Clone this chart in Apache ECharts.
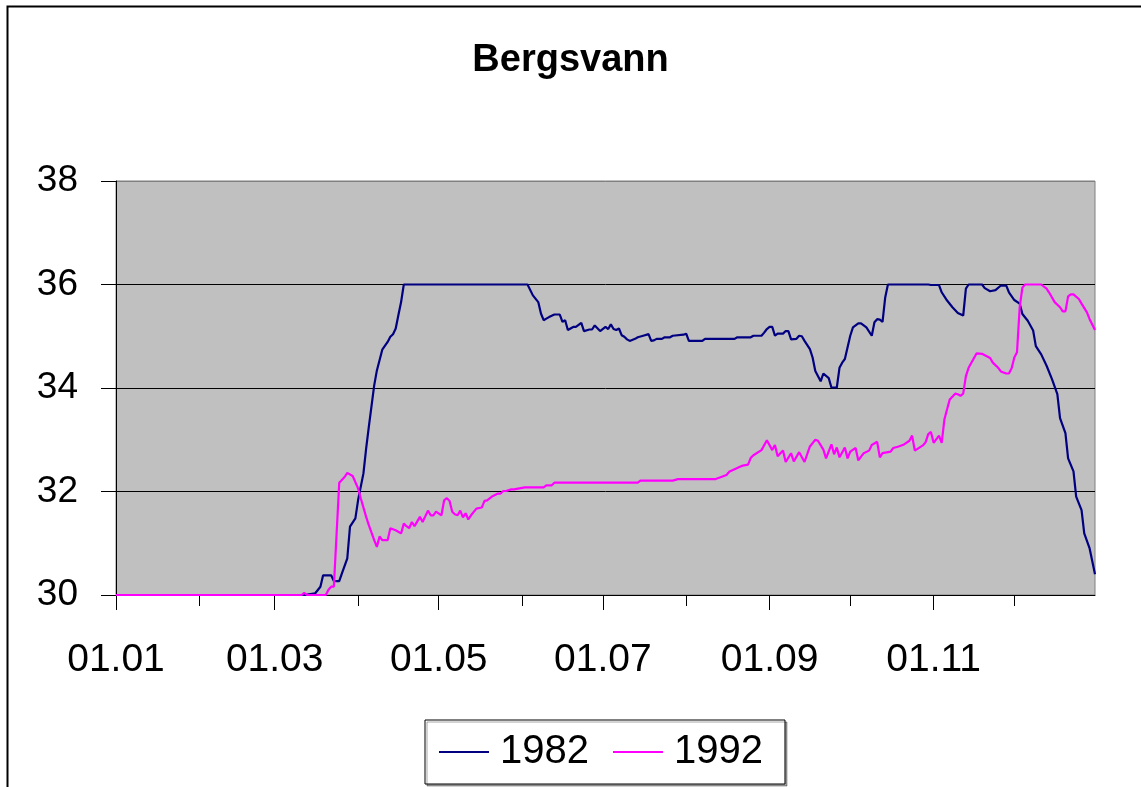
<!DOCTYPE html>
<html>
<head>
<meta charset="utf-8">
<title>Bergsvann</title>
<script src="https://cdn.jsdelivr.net/npm/echarts@6/dist/echarts.min.js"></script>
<style>
    * { margin: 0; padding: 0; }
    body { background: #fff; }
</style>
</head>
<body>
<div id="main" style="width: 1141px; height: 787px;"></div>
<script type="text/javascript">
var FONT = '"Liberation Sans", Arial, sans-serif';

var chartTitle = 'Bergsvann';
var seriesNames = ['1982', '1992'];
var seriesColors = ['#000080', '#ff00ff'];
var yMin = 30, yMax = 38, yStep = 2;
var labelMonths = ['01', '03', '05', '07', '09', '11'];

// [day of year (0 = 01.01), value]
var data1982 = [
    [0, 30], [70, 30], [74, 30.03], [76, 30.16], [77, 30.38], [80, 30.38], [81, 30.27], [83, 30.27],
    [84, 30.42], [86, 30.71], [87, 31.32], [89, 31.48], [90, 31.83], [92, 32.35], [93, 32.83],
    [94, 33.25], [96, 34.05], [97, 34.34], [99, 34.74], [101, 34.89], [102, 34.99], [103, 35.04],
    [104, 35.15], [105, 35.41], [106, 35.66], [107, 36], [153, 36], [155, 35.79], [157, 35.66],
    [158, 35.44], [159, 35.31], [160, 35.34], [161, 35.37], [163, 35.42], [165, 35.42], [166, 35.28],
    [167, 35.31], [168, 35.12], [170, 35.18], [171, 35.18], [173, 35.26], [174, 35.1], [176, 35.13],
    [177, 35.13], [178, 35.21], [180, 35.1], [182, 35.18], [183, 35.14], [184, 35.23], [185, 35.14],
    [186, 35.12], [187, 35.15], [188, 35.02], [189, 34.99], [190, 34.94], [191, 34.91], [193, 34.95],
    [194, 34.98], [196, 35.01], [198, 35.04], [199, 34.91], [200, 34.92], [201, 34.95], [203, 34.95],
    [204, 34.98], [206, 34.98], [207, 35.01], [211, 35.03], [212, 35.05], [213, 34.91], [218, 34.91],
    [219, 34.95], [230, 34.95], [231, 34.98], [236, 34.98], [237, 35.01], [240, 35.01], [241, 35.07],
    [242, 35.14], [243, 35.18], [244, 35.18], [245, 35.01], [246, 35.05], [248, 35.05], [249, 35.1],
    [250, 35.1], [251, 34.94], [253, 34.95], [254, 35.01], [255, 35.0], [256, 34.91], [258, 34.75],
    [259, 34.59], [260, 34.33], [262, 34.13], [263, 34.28], [265, 34.19], [266, 34.01], [268, 34.01],
    [269, 34.39], [270, 34.49], [271, 34.56], [273, 35.01], [274, 35.17], [276, 35.25], [277, 35.25],
    [279, 35.17], [281, 35.01], [282, 35.27], [283, 35.33], [284, 35.32], [285, 35.28], [286, 35.75],
    [287, 36], [302, 36], [303, 35.99], [306, 35.99], [307, 35.85], [309, 35.69], [311, 35.56],
    [313, 35.45], [315, 35.4], [316, 35.92], [317, 36], [322, 36], [323, 35.93], [325, 35.87],
    [327, 35.89], [329, 35.98], [331, 35.98], [332, 35.85], [334, 35.7], [336, 35.63], [337, 35.43],
    [339, 35.3], [341, 35.11], [342, 34.81], [344, 34.65], [346, 34.43], [348, 34.17], [350, 33.88],
    [351, 33.42], [353, 33.13], [354, 32.64], [356, 32.39], [357, 31.9], [359, 31.64], [360, 31.19],
    [362, 30.9], [364, 30.4]
];

var data1992 = [
    [0, 30], [69, 30], [70, 30.04], [71, 30], [78, 30], [79, 30.1], [80, 30.16], [81, 30.16],
    [83, 32.17], [85, 32.28], [86, 32.36], [88, 32.3], [90, 32.06], [91, 31.87], [93, 31.51],
    [94, 31.35], [96, 31.06], [97, 30.93], [98, 31.13], [99, 31.06], [101, 31.06], [102, 31.29],
    [104, 31.25], [106, 31.19], [107, 31.38], [108, 31.33], [109, 31.29], [110, 31.41], [111, 31.33],
    [113, 31.51], [114, 31.41], [116, 31.63], [117, 31.54], [118, 31.54], [119, 31.61], [121, 31.54],
    [122, 31.83], [123, 31.87], [124, 31.82], [125, 31.61], [126, 31.56], [127, 31.54], [128, 31.63],
    [129, 31.5], [130, 31.58], [131, 31.46], [132, 31.54], [134, 31.67], [136, 31.69], [137, 31.82],
    [138, 31.83], [140, 31.91], [142, 31.96], [143, 31.96], [144, 32.01], [145, 32.01], [147, 32.04],
    [148, 32.04], [152, 32.08], [159, 32.08], [160, 32.12], [162, 32.12], [163, 32.17], [194, 32.17],
    [195, 32.21], [207, 32.21], [209, 32.24], [223, 32.24], [225, 32.28], [227, 32.32], [228, 32.38],
    [230, 32.43], [232, 32.48], [233, 32.5], [235, 32.52], [236, 32.65], [237, 32.7], [240, 32.8],
    [242, 32.99], [244, 32.8], [245, 32.9], [246, 32.68], [248, 32.79], [249, 32.57], [251, 32.74],
    [252, 32.58], [254, 32.76], [256, 32.57], [258, 32.87], [260, 33.0], [261, 32.98], [263, 32.81],
    [264, 32.64], [266, 32.91], [267, 32.72], [268, 32.85], [269, 32.66], [271, 32.85], [272, 32.64],
    [273, 32.77], [275, 32.84], [276, 32.6], [278, 32.74], [280, 32.79], [281, 32.9], [283, 32.96],
    [284, 32.66], [285, 32.74], [288, 32.77], [289, 32.84], [291, 32.87], [293, 32.91], [295, 32.98],
    [296, 33.08], [297, 32.79], [300, 32.89], [301, 32.95], [302, 33.11], [303, 33.15], [304, 32.94],
    [306, 33.08], [307, 32.94], [308, 33.39], [309, 33.59], [310, 33.78], [312, 33.89], [313, 33.88],
    [314, 33.85], [315, 33.89], [316, 34.23], [317, 34.39], [320, 34.67], [322, 34.66], [325, 34.58],
    [326, 34.49], [328, 34.39], [329, 34.32], [331, 34.28], [332, 34.28], [333, 34.38], [334, 34.59],
    [335, 34.69], [336, 35.56], [337, 35.94], [338, 36], [344, 36], [346, 35.92], [347, 35.84],
    [349, 35.66], [351, 35.56], [352, 35.48], [353, 35.48], [354, 35.77], [355, 35.81], [356, 35.81],
    [358, 35.72], [359, 35.63], [361, 35.46], [362, 35.33], [364, 35.12]
];

function pad(n) {
    return n < 10 ? '0' + n : '' + n;
}

// one category per day of the year, labelled dd.mm
var days = [];
var d = new Date(1982, 0, 1);
while (d.getFullYear() === 1982) {
    days.push(pad(d.getDate()) + '.' + pad(d.getMonth() + 1));
    d.setDate(d.getDate() + 1);
}

function isMonthStart(v) {
    return v.slice(0, 3) === '01.';
}
function isLabelMonth(v) {
    return isMonthStart(v) && labelMonths.indexOf(v.slice(3)) >= 0;
}

var gridBox = { left: 116, right: 46, top: 181, bottom: 192 };

var myChart = echarts.init(document.getElementById('main'));

var option = {
    animation: false,
    backgroundColor: '#fff',
    textStyle: { fontFamily: FONT },
    title: {
        text: chartTitle,
        left: 'center',
        top: 37,
        textStyle: { fontFamily: FONT, fontSize: 38, fontWeight: 'bold', color: '#000' }
    },
    legend: {
        data: seriesNames,
        left: 425,
        top: 720,
        padding: [12, 22, 12, 14],
        itemGap: 24,
        itemWidth: 50,
        itemHeight: 2,
        icon: 'rect',
        borderColor: '#000',
        borderWidth: 1,
        borderRadius: 0,
        backgroundColor: '#fff',
        shadowColor: 'rgba(0,0,0,0.35)',
        shadowOffsetX: 2,
        shadowOffsetY: 2,
        textStyle: { fontFamily: FONT, fontSize: 40, color: '#000', lineHeight: 40, padding: [0, 0, 0, 6] }
    },
    grid: [
        Object.assign({ show: true, backgroundColor: '#c0c0c0', borderColor: '#808080', borderWidth: 1 }, gridBox),
        Object.assign({ show: false }, gridBox)
    ],
    xAxis: [
        {
            type: 'category',
            gridIndex: 0,
            data: days,
            boundaryGap: false,
            axisLine: { lineStyle: { color: '#000', width: 1 } },
            axisTick: { interval: function (i, v) { return isLabelMonth(v); }, length: 15, lineStyle: { color: '#000' } },
            axisLabel: {
                interval: function (i, v) { return isLabelMonth(v); },
                margin: 46,
                fontFamily: FONT,
                fontSize: 39,
                color: '#000'
            },
            splitLine: { show: false }
        },
        {
            type: 'category',
            gridIndex: 1,
            data: days,
            boundaryGap: false,
            axisLine: { show: false },
            axisTick: { interval: function (i, v) { return isMonthStart(v) && !isLabelMonth(v); }, length: 11, lineStyle: { color: '#000' } },
            axisLabel: { show: false },
            splitLine: { show: false }
        }
    ],
    yAxis: [
        {
            type: 'value',
            gridIndex: 0,
            min: yMin,
            max: yMax,
            interval: yStep,
            axisLine: { show: true, lineStyle: { color: '#000', width: 1 } },
            axisTick: { show: true, length: 15, lineStyle: { color: '#000' } },
            axisLabel: { margin: 38, fontFamily: FONT, fontSize: 37, color: '#000' },
            splitLine: { show: true, lineStyle: { color: ['#000', '#000', '#000', '#000', '#808080'], width: 1 } }
        },
        {
            type: 'value',
            gridIndex: 1,
            min: yMin,
            max: yMax,
            show: false
        }
    ],
    graphic: [
        {
            type: 'rect',
            silent: true,
            shape: { x: 7.5, y: 6.5, width: 1400, height: 1000 },
            style: { fill: 'none', stroke: '#000', lineWidth: 2 }
        }
    ],
    series: [
        {
            name: seriesNames[0],
            type: 'line',
            data: data1982,
            symbol: 'none',
            color: seriesColors[0],
            lineStyle: { width: 2.2, color: seriesColors[0] }
        },
        {
            name: seriesNames[1],
            type: 'line',
            data: data1992,
            symbol: 'none',
            color: seriesColors[1],
            lineStyle: { width: 2.2, color: seriesColors[1] }
        }
    ]
};

myChart.setOption(option);
</script>
</body>
</html>
